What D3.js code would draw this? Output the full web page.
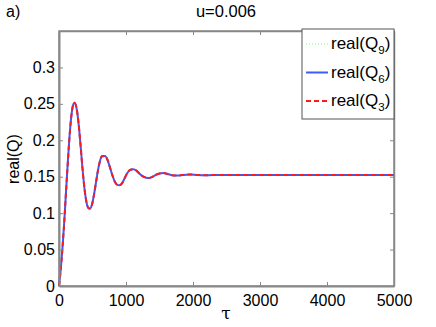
<!DOCTYPE html>
<html>
<head>
<meta charset="utf-8">
<script src="https://cdn.jsdelivr.net/npm/d3@7"></script>
<style>
  body { margin: 0; background: #fff; }
  text { font-family: "Liberation Sans", Arial, sans-serif; fill: #000; }
</style>
</head>
<body>
<div class="canva"></div>
<script>
const width = 436
const height = 327

// data
const tau = [0, 25, 50, 75, 100, 125, 150, 175, 200, 229, 260, 290, 320, 350, 380, 410, 440, 463, 490, 520,
  550, 580, 610, 640, 687, 720, 760, 800, 840, 870, 900, 940, 980, 1020, 1060, 1109, 1160, 1210, 1260, 1300,
  1348, 1400, 1450, 1500, 1557, 1610, 1660, 1710, 1757, 1810, 1860, 1955, 2050, 2150, 2300, 2500, 3000, 3500,
  4000, 4500, 5000]
const q6 = [0, 0.022, 0.05, 0.083, 0.122, 0.160, 0.196, 0.225, 0.244, 0.2515, 0.245, 0.225, 0.195, 0.162,
  0.134, 0.115, 0.107, 0.1064, 0.111, 0.124, 0.141, 0.158, 0.171, 0.178, 0.1785, 0.174, 0.163, 0.151, 0.142,
  0.1388, 0.1384, 0.141, 0.148, 0.155, 0.1593, 0.1603, 0.158, 0.1535, 0.150, 0.1487, 0.1484, 0.150, 0.1527,
  0.1545, 0.155, 0.154, 0.1527, 0.1518, 0.1515, 0.1519, 0.1525, 0.153, 0.1525, 0.1521, 0.1522, 0.1522,
  0.1522, 0.1522, 0.1522, 0.1522, 0.1522]
const q9 = q6.slice()
const q3 = q6.slice()

const xTicks = [0, 1000, 2000, 3000, 4000, 5000]
const yTicks = [0, 0.05, 0.1, 0.15, 0.2, 0.25, 0.3]

const series = [
  { name: "9", values: q9, color: "#7dff7d", width: 1, dash: "1,2" },
  { name: "6", values: q6, color: "#3a5cff", width: 2, dash: null },
  { name: "3", values: q3, color: "#ff1a1a", width: 2, dash: "5,3" }
]

const pLeft = 59, pRight = 394, pTop = 31, pBottom = 286

const svg = d3.select(".canva").append("svg").attr("width", width).attr("height", height)

const x = d3.scaleLinear().domain([0, 5000]).range([pLeft, pRight])
const y = d3.scaleLinear().domain([0, 0.35]).range([pBottom, pTop])

//box
svg.append("rect")
  .attr("x", pLeft).attr("y", pTop)
  .attr("width", pRight - pLeft).attr("height", pBottom - pTop)
  .attr("fill", "none").attr("stroke", "#888").attr("stroke-width", 1.5)

// lines
const line = d3.line().x((d, i) => x(tau[i])).y(d => y(d)).curve(d3.curveMonotoneX)
series.forEach(s => {
  svg.append("path")
    .datum(s.values)
    .attr("d", line)
    .attr("fill", "none")
    .attr("stroke", s.color)
    .attr("stroke-width", s.width)
    .attr("stroke-dasharray", s.dash)
})

// axes
const fmt = d => String(+d.toFixed(2))
const xAxis = svg.append("g").attr("transform", `translate(0,${pBottom})`)
  .call(d3.axisBottom(x).tickValues(xTicks).tickFormat(fmt).tickSizeInner(-4).tickSizeOuter(0).tickPadding(9))
const xTop = svg.append("g").attr("transform", `translate(0,${pTop})`)
  .call(d3.axisTop(x).tickValues(xTicks).tickFormat("").tickSizeInner(-4).tickSizeOuter(0))
const yAxis = svg.append("g").attr("transform", `translate(${pLeft},0)`)
  .call(d3.axisLeft(y).tickValues(yTicks).tickFormat(fmt).tickSizeInner(-4).tickSizeOuter(0).tickPadding(4))
const yRight = svg.append("g").attr("transform", `translate(${pRight},0)`)
  .call(d3.axisRight(y).tickValues(yTicks).tickFormat("").tickSizeInner(-4).tickSizeOuter(0))

svg.selectAll(".domain").attr("stroke", "#888").attr("stroke-width", 1.5)
svg.selectAll(".tick line").attr("stroke", "#888")
svg.selectAll(".tick text").attr("font-size", 16).attr("font-family", "Liberation Sans, Arial, sans-serif")
xAxis.select(".domain").attr("stroke-width", 2)
yAxis.select(".domain").attr("stroke-width", 2)

// labels
svg.append("text").attr("x", 226).attr("y", 17).attr("text-anchor", "middle").attr("font-size", 16.5).text("u=0.006")
svg.append("text").attr("x", 6).attr("y", 17).attr("font-size", 16).text("a)")
svg.append("text").attr("x", 226).attr("y", 319).attr("text-anchor", "middle").attr("font-size", 17)
  .style("font-family", "'DejaVu Serif', 'Liberation Serif', serif").text("τ")
svg.append("text").attr("transform", "translate(19,159) rotate(-90)").attr("text-anchor", "middle")
  .attr("font-size", 16).text("real(Q)")

// legend
const lg = svg.append("g")
lg.append("rect").attr("x", 302).attr("y", 29).attr("width", 92).attr("height", 90)
  .attr("fill", "#fff").attr("stroke", "#555").attr("stroke-width", 1)
series.forEach((s, i) => {
  const cy = 44 + i * 28.5
  lg.append("line").attr("x1", 306).attr("x2", 328).attr("y1", cy).attr("y2", cy)
    .attr("stroke", s.color).attr("stroke-width", s.width).attr("stroke-dasharray", s.dash)
  const t = lg.append("text").attr("x", 331).attr("y", cy + 5).attr("font-size", 17)
  t.append("tspan").text("real(Q")
  t.append("tspan").attr("font-size", 11.5).attr("dy", 5).text(s.name)
  t.append("tspan").attr("dy", -5).text(")")
})
</script>
</body>
</html>
